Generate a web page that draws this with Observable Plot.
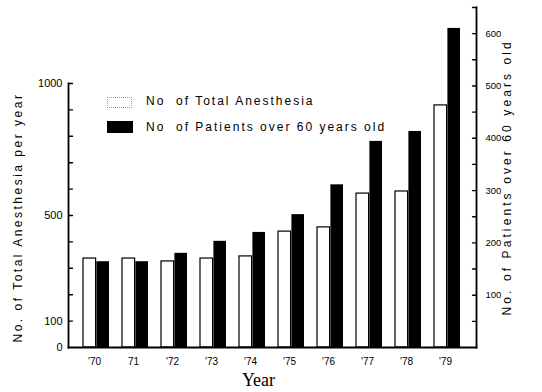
<!DOCTYPE html>
<html>
<head>
<meta charset="utf-8">
<script src="https://cdn.jsdelivr.net/npm/d3@7"></script>
<script src="https://cdn.jsdelivr.net/npm/@observablehq/plot@0.6"></script>
<style>
  body { margin: 0; background: #fff; }
  #chart { position: relative; width: 542px; height: 392px; font-family: "Liberation Sans", Arial, sans-serif; color: #000; }
  #chart svg { position: absolute; left: 0; top: 0; }
  .key { position: absolute; left: 107px; }
  .key .box { position: absolute; left: 0; }
  .key .lbl { position: absolute; left: 39px; white-space: pre; font-size: 12px; letter-spacing: 2px; line-height: 14px; }
</style>
</head>
<body>
<div id="chart"></div>
<script>
// Years on the horizontal axis (label text as printed)
const yearLabels = ["'70", "71", "'72", "'73", "'74", "'75", "'76", "'77", "'78", "'79"];
// No. of total anesthesia per year (left axis)
const totalAnesthesia = [337, 337, 326, 337, 345, 439, 455, 583, 591, 917];
// No. of patients over 60 years old (right axis)
const patientsOver60 = [164, 164, 180, 203, 220, 254, 311, 394, 413, 610];
// Axis tick labels and tick marks
const leftTicks = [0, 100, 500, 1000];
const leftTickMarks = [100, 200, 300, 400, 500, 600, 700, 800, 900, 1000];
const rightTicks = [100, 200, 300, 400, 500, 600];
const rightTickMarks = [50, 100, 150, 200, 250, 300, 350, 400, 450, 500, 550, 600, 650];
// Text
const leftTitle = "No. of Total Anesthesia per year";
const rightTitle = "No. of Patients over 60 years old";
const xTitle = "Year";
const legendLabels = ["No  of Total Anesthesia", "No  of Patients over 60 years old"];

const rows = yearLabels.map((label, i) => ({
  label,
  total: totalAnesthesia[i],
  patients: patientsOver60[i]
}));

const xScale = { type: "band", domain: yearLabels, paddingInner: 0.327, paddingOuter: 0.3 };
const half = 13.4; // half of a pair's band: left half white, right half black
const common = {
  width: 542,
  height: 392,
  marginLeft: 68,
  marginRight: 66,
  marginBottom: 45,
  style: { background: "transparent", overflow: "visible", fontFamily: "'Liberation Sans', Arial, sans-serif", color: "#000" }
};

// short straight tick drawn by the vector mark (points inward from the axis)
const tickShape = { draw(context, l) { context.moveTo(0, 0); context.lineTo(0, -l); } };

// Total anesthesia bars, left axis, x axis
const plotA = Plot.plot({
  ...common,
  marginTop: 83,
  x: xScale,
  y: { domain: [0, 1000] },
  marks: [
    Plot.barY(rows, { x: "label", y: "total", fill: "white", stroke: "black", strokeWidth: 1.2, insetRight: half }),
    Plot.frame({ anchor: "left", strokeWidth: 1.8 }),
    Plot.frame({ anchor: "bottom", strokeWidth: 1.8 }),
    Plot.vector(leftTickMarks, { y: d => d, frameAnchor: "left", length: 4, rotate: 90, anchor: "start", shape: tickShape, strokeWidth: 1.4 }),
    Plot.axisY({ ticks: leftTicks, tickSize: 0, tickPadding: 6, fontSize: 11, label: null, tickFormat: d => String(d) }),
    Plot.axisX({ tickSize: 0, tickPadding: 10, fontSize: 10, dx: -2, label: null }),
    // title reads bottom to top, starting just above the baseline
    Plot.text([leftTitle], { frameAnchor: "bottom-left", textAnchor: "start", rotate: -90, dx: -47, dy: -5, fontSize: 12 }),
    Plot.text([xTitle], { frameAnchor: "bottom", dx: -14, dy: 38, fontSize: 18, fontFamily: "'Liberation Serif', 'Times New Roman', serif" })
  ]
});

// Patients over 60 bars, right axis
const plotB = Plot.plot({
  ...common,
  marginTop: 7,
  x: { ...xScale, axis: null },
  y: { domain: [0, 650] },
  marks: [
    Plot.barY(rows, { x: "label", y: "patients", fill: "black", insetLeft: half }),
    Plot.frame({ anchor: "right", strokeWidth: 1.8 }),
    Plot.vector(rightTickMarks, { y: d => d, frameAnchor: "right", length: 4, rotate: -90, anchor: "start", shape: tickShape, strokeWidth: 1.4 }),
    Plot.axisY({ anchor: "right", ticks: rightTicks, tickSize: 0, tickPadding: 9, fontSize: 9.5, label: null, tickFormat: d => String(d) }),
    Plot.text([rightTitle], { frameAnchor: "bottom-right", textAnchor: "start", rotate: -90, dx: 34, dy: -32, fontSize: 12 })
  ]
});

// typewriter-style spacing on the two axis titles
d3.select(plotA).selectAll("text").filter(function () { return this.textContent === leftTitle; }).attr("letter-spacing", 2.5);
d3.select(plotB).selectAll("text").filter(function () { return this.textContent === rightTitle; }).attr("letter-spacing", 3.1);

const chart = document.getElementById("chart");
chart.append(plotA, plotB);

// Legend
const key = document.createElement("div");
key.className = "key";
key.style.top = "96px";
key.innerHTML = `
  <div class="box" style="top:1px;width:23px;height:9px;border:1px dotted #999;"></div>
  <div class="lbl" style="top:-2px;">${legendLabels[0]}</div>
  <div class="box" style="top:25px;width:26px;height:12px;background:#000;"></div>
  <div class="lbl" style="top:24px;">${legendLabels[1]}</div>`;
chart.append(key);
</script>
</body>
</html>
